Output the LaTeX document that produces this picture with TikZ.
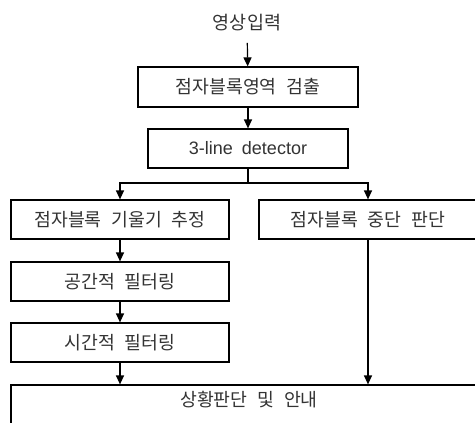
\documentclass[tikz,border=0pt]{standalone}
\usepackage{fontspec}
\usetikzlibrary{arrows.meta}
\newfontfamily\kr[WordSpace=2.4]{Noto Sans CJK KR}
\newfontfamily\lat[WordSpace=1.8]{Liberation Sans}
\begin{document}
\begin{tikzpicture}[x=1pt,y=-1pt,
  box/.style={draw=black, line width=1.2pt, fill=white, inner sep=0pt, minimum height=39pt, font=\kr\fontsize{18.3}{21}\selectfont, text=black!80},
  arr/.style={line width=1.2pt, -{Triangle[length=9pt,width=8pt]}},
  ln/.style={line width=1.2pt}]
\useasboundingbox (0,0) rectangle (475,423);
\clip (0,0) rectangle (475,423);
\node[font=\kr\fontsize{18.5}{21}\selectfont, text=black!80] (title) at (247,23) {영상입력};
\node[box, minimum width=220pt, minimum height=40pt] (b1) at (248,87) {점자블록영역 검출};
\node[box, minimum width=200pt, font=\lat\fontsize{18}{21}\selectfont] (b2) at (248,148.5) {3-line detector};
\node[box, minimum width=218pt] (l1) at (120,219.5) {점자블록 기울기 추정};
\node[box, minimum width=218pt] (r1) at (368,219.5) {점자블록 중단 판단};
\node[box, minimum width=218pt] (l2) at (120,281.5) {공간적 필터링};
\node[box, minimum width=218pt] (l3) at (120,342.5) {시간적 필터링};
\node[box, minimum width=476pt, minimum height=40pt, text depth=12pt, text height=14pt] (bot) at (249,405) {상황판단 및 안내};
\coordinate (split) at (248,183);
\draw[arr, shorten <=8pt] (title) -- (b1);
\draw[arr] (b1) -- (b2);
\draw[ln] (b2.south) -- (split);
\draw[arr] (split) -| (l1.north);
\draw[arr] (split) -| (r1.north);
\draw[arr] (l1) -- (l2);
\draw[arr] (l2) -- (l3);
\draw[arr] (l3.south) -- (bot.north -| l3.south);
\draw[arr] (r1.south) -- (bot.north -| r1.south);
\end{tikzpicture}
\end{document}
